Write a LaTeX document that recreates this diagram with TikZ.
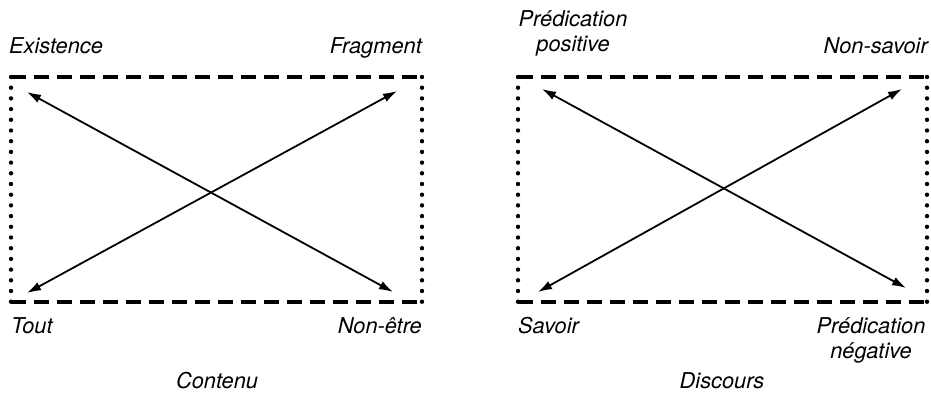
\documentclass[tikz,border=0pt]{standalone}
\usepackage{fontspec}
\setmainfont{TeX Gyre Heros}
\usetikzlibrary{arrows.meta}
\begin{document}
\begin{tikzpicture}[x=1pt,y=-1pt,
  lab/.style={font=\fontsize{21.8}{25}\selectfont\itshape, inner sep=0pt},
  dashedge/.style={line width=3.4pt, dash pattern=on 15pt off 8pt},
  dotedge/.style={line width=4.4pt, line cap=round, dash pattern=on 0pt off 10.7pt},
  conn/.style={line width=1.8pt, {Latex[length=14pt,width=9pt]}-{Latex[length=14pt,width=9pt]}}]
\useasboundingbox (0,0) rectangle (931,393);
% left square
\coordinate (LTL) at (11,77);
\coordinate (LTR) at (422,77);
\coordinate (LBL) at (11,302);
\coordinate (LBR) at (422,302);
\draw[dashedge] (LTL) -- (LTR);
\draw[dashedge] (LBL) -- (LBR);
\draw[dotedge] (LTL) -- (LBL);
\draw[dotedge] (LTR) -- (LBR);
\coordinate (a1) at (27,92);
\coordinate (a2) at (393,292);
\coordinate (b1) at (27,293);
\coordinate (b2) at (397,91);
\draw[conn] (a1) -- (a2);
\draw[conn] (b1) -- (b2);
\node[lab, anchor=base west] (existence) at (9,54) {Existence};
\node[lab, anchor=base east] (fragment) at (422,54) {Fragment};
\node[lab, anchor=base west] (tout) at (11,333) {Tout};
\node[lab, anchor=base east] (nonetre) at (422,333) {Non-être};
\node[lab, anchor=base] (contenu) at (217,388) {Contenu};
% right square
\coordinate (RTL) at (518,77);
\coordinate (RTR) at (927,77);
\coordinate (RBL) at (518,302);
\coordinate (RBR) at (927,302);
\draw[dashedge] (RTL) -- (RTR);
\draw[dashedge] (RBL) -- (RBR);
\draw[dotedge] (RTL) -- (RBL);
\draw[dotedge] (RTR) -- (RBR);
\coordinate (c1) at (542,89);
\coordinate (c2) at (906,288);
\coordinate (d1) at (538,292);
\coordinate (d2) at (902,89);
\draw[conn] (c1) -- (c2);
\draw[conn] (d1) -- (d2);
\node[lab, anchor=base] (predpos1) at (573,27) {Prédication};
\node[lab, anchor=base] (predpos2) at (573,52) {positive};
\node[lab, anchor=base east] (nonsavoir) at (928,54) {Non-savoir};
\node[lab, anchor=base west] (savoir) at (518,333) {Savoir};
\node[lab, anchor=base] (predneg1) at (871,333) {Prédication};
\node[lab, anchor=base] (predneg2) at (871,358) {négative};
\node[lab, anchor=base] (discours) at (722,388) {Discours};
\end{tikzpicture}
\end{document}
